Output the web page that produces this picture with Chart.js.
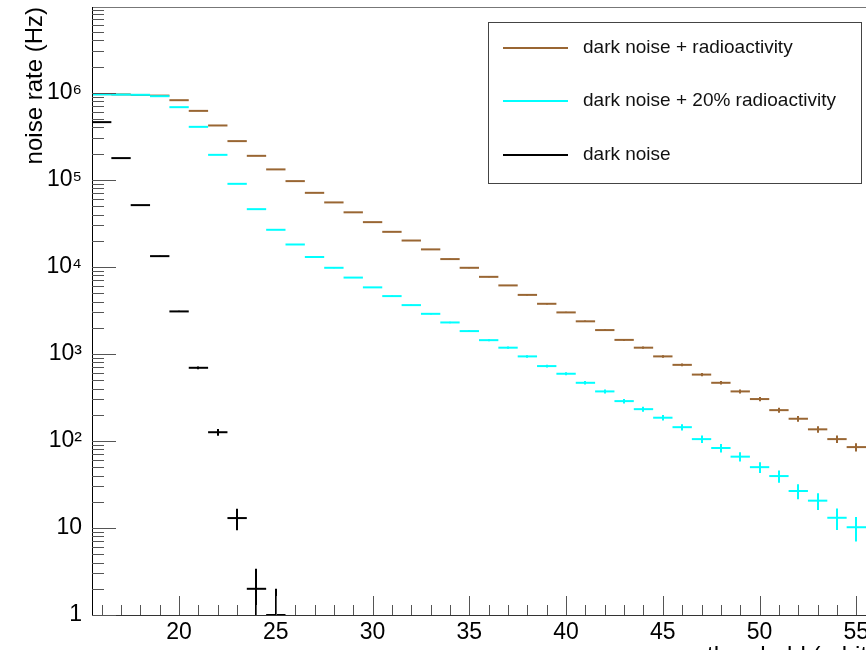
<!DOCTYPE html>
<html>
<head>
<meta charset="utf-8">
<script src="https://cdn.jsdelivr.net/npm/chart.js@4"></script>
<style>
html,body{margin:0;padding:0;background:#fff;overflow:hidden;}
#wrap{width:866px;height:650px;overflow:hidden;position:relative;background:#fff;}
canvas{display:block;}
</style>
</head>
<body>
<div id="wrap"><canvas id="c" width="900" height="650"></canvas></div>
<script>
// ---------------- data ----------------
const bins = [16,17,18,19,20,21,22,23,24,25,26,27,28,29,30,31,32,33,34,35,36,37,38,39,40,41,42,43,44,45,46,47,48,49,50,51,52,53,54,55];
const radioRate = [967000,960000,946000,930000,824000,621000,422000,279000,189000,132000,96800,71000,55100,42400,32700,25300,20100,15900,12300,9770,7690,6130,4770,3770,3000,2370,1880,1450,1180,937,749,579,466,371,303,226,180,136,105,85];
const radioErr = [983,980,973,964,908,788,650,528,435,363,311,266,235,206,181,159,142,126,111,99,88,78,69,61,55,49,43,38,34,31,27,24,22,19,17,15,13.4,11.7,10.2,9.2];
const radio20Rate = [960000,955000,950000,916000,685000,407000,194000,90100,46100,26700,18100,13000,9770,7540,5820,4620,3640,2890,2300,1830,1440,1180,937,725,592,466,371,287,232,185,144,105,83,66,50,39.5,26.6,20.6,13.1,10.2];
const radio20Err = [980,977,975,957,828,638,440,300,215,163,135,114,99,87,76,68,60,54,48,43,38,34,31,27,24,22,19,17,15,13.6,12,10.2,9.1,8.1,7.1,6.3,5.2,4.5,3.6,3.2];
const darkBins = [16,17,18,19,20,21,22,23,24,25];
const darkRate = [461000,178000,51300,13300,3080,693,126,13,2,1];
const darkErr = [679,422,226,115,55,26,11,3.6,1.4,1];

const seriesLabels = ['dark noise + radioactivity','dark noise + 20% radioactivity','dark noise'];
const xTickValues = [20,25,30,35,40,45,50,55];
const yTickValues = [1,10,100,1000,10000,100000,1000000];
const yTickLabels = ['1','10','10\u00B2','10\u00B3','10\u2074','10\u2075','10\u2076'];
const xTitle = 'threshold (arbitrary units)';
const yTitle = 'noise rate (Hz)';

// ---------------- styles ----------------
const FONT = "'Liberation Sans', Arial, Helvetica, sans-serif";
const colBrown = 'rgb(153,102,51)';
const colCyan = 'rgb(0,255,255)';
const colBlack = '#000000';

function halfBin(ctx){
  const s = ctx.chart.scales.x;
  return Math.abs(s.getPixelForValue(1) - s.getPixelForValue(0)) / 2;
}
function makeSet(label, xs, ys, es, color, order){
  return {
    label: label,
    data: xs.map((x,i)=>({x:x, y:ys[i], e:es[i]})),
    showLine:false,
    borderColor:color,
    backgroundColor:color,
    pointStyle:'line',
    pointBorderWidth:2,
    pointRadius:halfBin,
    pointHoverRadius:halfBin,
    clip:0,
    order:order
  };
}

const rootPlugin = {
  id:'rootStyle',
  afterDatasetDraw(chart, args){
    const ds = chart.data.datasets[args.index];
    const meta = args.meta;
    const ya = chart.scales.y;
    const ca = chart.chartArea;
    const ctx = chart.ctx;
    ctx.save();
    ctx.beginPath();
    ctx.rect(ca.left, ca.top, ca.right - ca.left, ca.bottom - ca.top);
    ctx.clip();
    ctx.strokeStyle = ds.borderColor;
    ctx.lineWidth = 2;
    meta.data.forEach((pt, i) => {
      const d = ds.data[i];
      const yTop = ya.getPixelForValue(d.y + d.e);
      const lo = d.y - d.e;
      const yBot = lo > 0 ? ya.getPixelForValue(lo) : ca.bottom + 2;
      const px = Math.round(pt.x);
      ctx.beginPath();
      ctx.moveTo(px, yTop);
      ctx.lineTo(px, yBot);
      ctx.stroke();
    });
    ctx.restore();
  },
  afterDraw(chart){
    const ctx = chart.ctx;
    const ca = chart.chartArea;
    const xa = chart.scales.x, ya = chart.scales.y;
    ctx.save();
    // frame
    ctx.lineWidth = 1;
    ctx.strokeStyle = '#777';
    ctx.beginPath(); ctx.moveTo(ca.left, ca.top + 0.5); ctx.lineTo(ca.right, ca.top + 0.5); ctx.stroke();
    ctx.strokeStyle = '#000';
    ctx.beginPath(); ctx.moveTo(ca.left + 0.5, ca.top); ctx.lineTo(ca.left + 0.5, ca.bottom + 1); ctx.stroke();
    ctx.strokeStyle = '#333';
    ctx.beginPath(); ctx.moveTo(ca.left, ca.bottom + 0.5); ctx.lineTo(ca.right, ca.bottom + 0.5); ctx.stroke();
    // y ticks (inward)
    ctx.strokeStyle = '#555';
    for (let d = 1; d <= ya.max; d *= 10) {
      for (let k = 1; k <= 9; k++) {
        const v = k * d;
        if (v > ya.max) break;
        const y = Math.round(ya.getPixelForValue(v)) + 0.5;
        const len = (k === 1) ? 24 : 12;
        ctx.beginPath(); ctx.moveTo(ca.left, y); ctx.lineTo(ca.left + len, y); ctx.stroke();
      }
    }
    // x ticks (inward)
    for (let v = Math.ceil(xa.min); v <= xa.max; v++) {
      const x = Math.round(xa.getPixelForValue(v)) + 0.5;
      const len = (v % 5 === 0) ? 19 : 10;
      ctx.beginPath(); ctx.moveTo(x, ca.bottom); ctx.lineTo(x, ca.bottom - len); ctx.stroke();
    }
    // legend
    const lx = 488.5, ly = 22.5, lw = 373, lh = 161;
    ctx.strokeStyle = '#444';
    ctx.lineWidth = 1;
    ctx.strokeRect(lx, ly, lw, lh);
    const entryY = [48, 101, 155];
    const order = [0, 1, 2];
    ctx.font = '19px ' + FONT;
    ctx.textBaseline = 'middle';
    ctx.textAlign = 'left';
    order.forEach((di, j) => {
      const ds = chart.data.datasets[di];
      ctx.strokeStyle = ds.borderColor;
      ctx.lineWidth = 2;
      ctx.beginPath(); ctx.moveTo(503, entryY[j]); ctx.lineTo(568, entryY[j]); ctx.stroke();
      ctx.fillStyle = '#111';
      ctx.fillText(ds.label, 583, entryY[j]);
    });
    // x axis title (right part is outside the visible page)
    ctx.font = '24px ' + FONT;
    ctx.textBaseline = 'alphabetic';
    ctx.fillStyle = '#000';
    ctx.fillText(xTitle, 707, 663);
    ctx.restore();
  }
};

new Chart(document.getElementById('c'), {
  type:'scatter',
  data:{
    datasets:[
      makeSet(seriesLabels[0], bins, radioRate, radioErr, colBrown, 1),
      makeSet(seriesLabels[1], bins, radio20Rate, radio20Err, colCyan, 0),
      makeSet(seriesLabels[2], darkBins, darkRate, darkErr, colBlack, 2)
    ]
  },
  options:{
    responsive:false,
    animation:false,
    events:[],
    layout:{padding:{left:0, top:7, right:34, bottom:0}},
    plugins:{legend:{display:false}, tooltip:{enabled:false}},
    scales:{
      x:{
        type:'linear', min:15.5, max:55.5,
        grid:{display:false, drawTicks:false},
        border:{display:false},
        ticks:{font:{family:FONT, size:23}, color:'#000', padding:4, maxRotation:0, autoSkip:false,
               callback:(v)=>String(v)},
        afterBuildTicks:(s)=>{ s.ticks = xTickValues.map(v=>({value:v})); },
        afterFit:(s)=>{ s.height = 35; s.paddingLeft = 0; s.paddingRight = 0; }
      },
      y:{
        type:'logarithmic', min:1, max:9.7e6,
        grid:{display:false, drawTicks:false},
        border:{display:false},
        ticks:{font:{family:FONT, size:23}, color:'#000', padding:10, autoSkip:false,
               callback:(v)=>{ const i = yTickValues.indexOf(v); return i >= 0 ? yTickLabels[i] : ''; }},
        afterBuildTicks:(s)=>{ s.ticks = yTickValues.map(v=>({value:v})); },
        title:{display:true, text:yTitle, align:'end', color:'#000',
               font:{family:FONT, size:24}, padding:{top:21, bottom:0}},
        afterFit:(s)=>{ s.width = 92; s.paddingTop = 0; s.paddingBottom = 0; }
      }
    }
  },
  plugins:[rootPlugin]
});
</script>
</body>
</html>
